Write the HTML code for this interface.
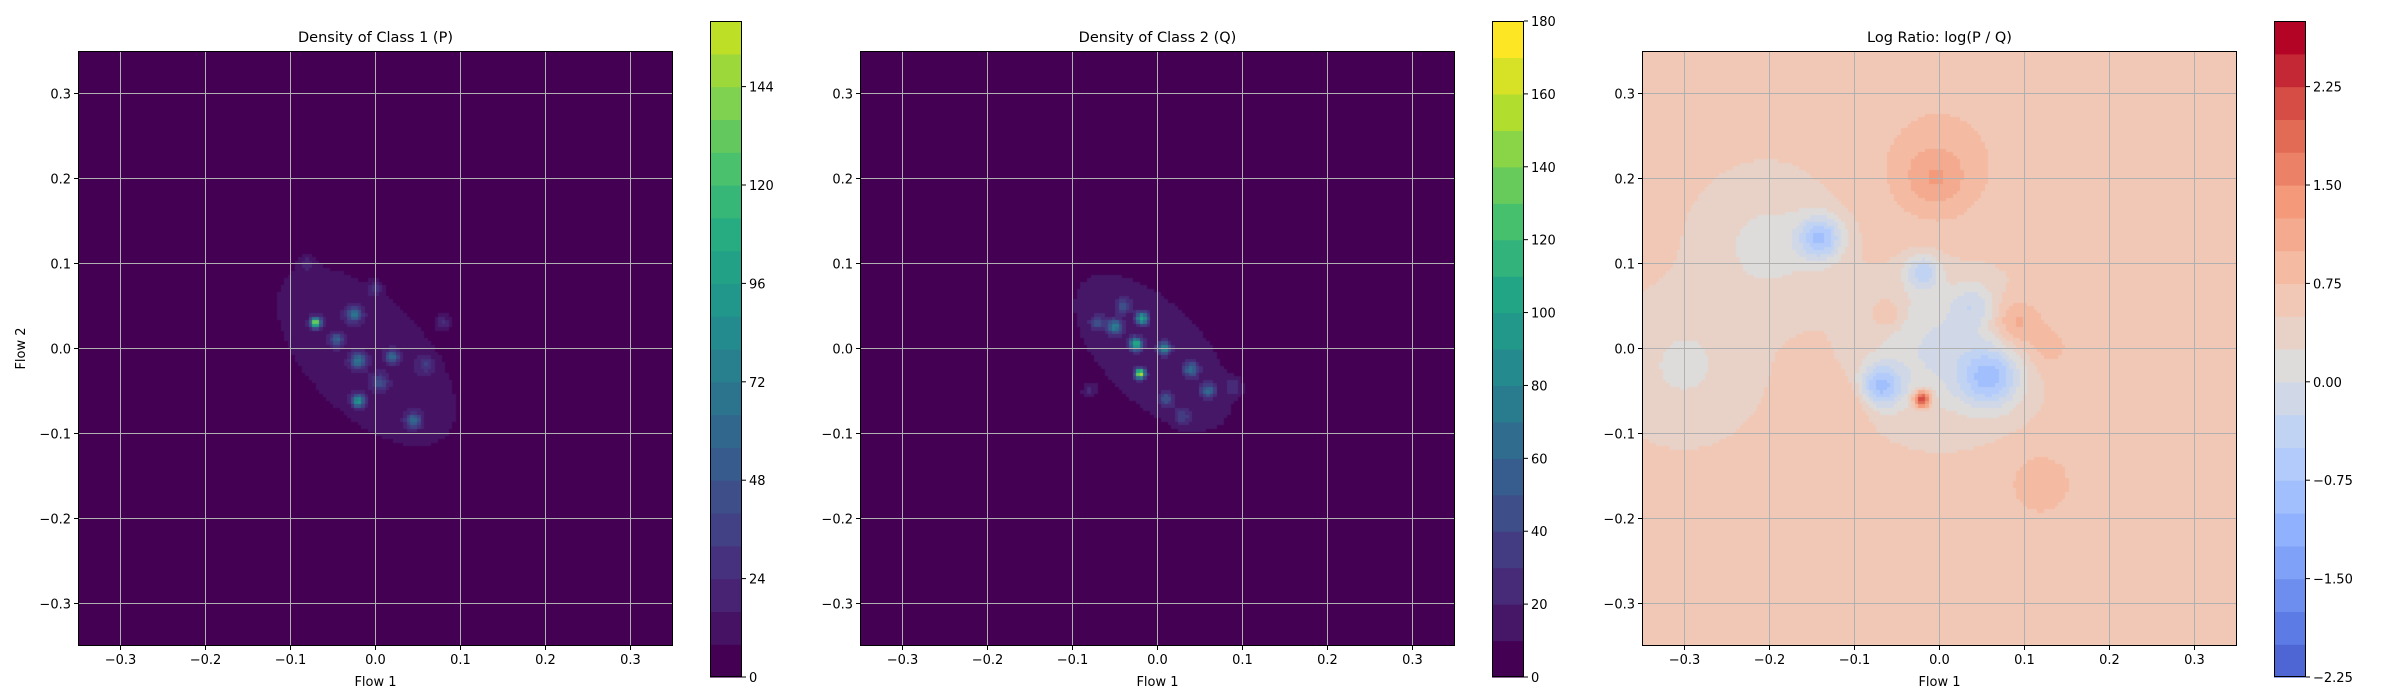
<!DOCTYPE html>
<html><head><meta charset="utf-8">
<style>
html,body{margin:0;padding:0;background:#fff;}
#wrap{position:relative;width:2400px;height:700px;overflow:hidden;font-family:"DejaVu Sans","Liberation Sans",sans-serif;}
canvas{position:absolute;}
svg{position:absolute;left:0;top:0;}
</style></head>
<body>
<div id="wrap">
<canvas id="c1"></canvas>
<canvas id="c2"></canvas>
<canvas id="c3"></canvas>
<svg id="ov" width="2400" height="700"></svg>
</div>
<script>
// ---- data ----
const axisTicks = [-0.3,-0.2,-0.1,0.0,0.1,0.2,0.3];
const axisTickLabels = ["−0.3","−0.2","−0.1","0.0","0.1","0.2","0.3"];
// Class 1 (P) components: x, y, sigma, amplitude
const pBlobX = [-0.01,-0.07,-0.025,-0.02,-0.02,0.02,0.045,-0.045,0.005,0.08,-0.08,0.0,0.06];
const pBlobY = [-0.01,0.03,0.04,-0.015,-0.062,-0.01,-0.085,0.01,-0.04,0.03,0.1,0.07,-0.02];
const pBlobS = [0.0,0.004,0.006,0.006,0.005,0.005,0.006,0.005,0.006,0.007,0.007,0.006,0.007];
const pBlobA = [14,140,55,60,85,50,50,45,35,25,15,20,20];
// Class 2 (Q) components
const qBlobX = [-0.005,-0.02,-0.018,-0.025,-0.05,0.04,0.008,0.06,-0.07,-0.04,0.03,0.01,-0.08,0.09];
const qBlobY = [-0.005,-0.03,0.035,0.005,0.025,-0.025,0.0,-0.05,0.03,0.05,-0.08,-0.06,-0.05,-0.045];
const qBlobS = [0.0,0.004,0.005,0.005,0.006,0.006,0.005,0.006,0.006,0.006,0.007,0.006,0.007,0.007];
const qBlobA = [14,150,95,105,65,55,75,50,35,35,25,35,22,22];
// Log ratio components
const rBase = 0.55;
const rBlobX = [-0.02,0.09,-0.005,0.12,-0.07,0.06,-0.14,-0.02,0.0,-0.2,0.0,-0.3,-0.06,0.04,-0.1,0.13];
const rBlobY = [-0.06,0.03,0.2,-0.16,-0.045,-0.035,0.13,0.09,0.0,0.12,0.22,-0.02,0.04,0.05,-0.06,0.0];
const rBlobS = [0.007,0.02,0.025,0.025,0.018,0.025,0.018,0.014,0.055,0.05,0.06,0.05,0.012,0.018,0.02,0.02];
const rBlobA = [2.0,0.6,0.45,0.45,-1.3,-1.2,-1.2,-0.9,-0.6,-0.4,0.3,-0.35,0.4,-0.5,0.35,0.3];
// colorbar levels
const pTicks = [0,24,48,72,96,120,144];
const qTicks = [0,20,40,60,80,100,120,140,160,180];
const rTicks = [-2.25,-1.50,-0.75,0.00,0.75,1.50,2.25];
const rTickLabels = ["−2.25","−1.50","−0.75","0.00","0.75","1.50","2.25"];

// ---- colormaps ----
const VIR = [[68,1,84],[72,36,117],[65,68,135],[53,95,141],[42,120,142],[33,145,140],[34,168,132],[68,191,112],[122,209,81],[189,223,38],[253,231,37]];
const CW = [[59,76,192],[98,130,234],[141,176,254],[184,208,249],[221,221,221],[245,196,173],[244,154,123],[222,96,77],[180,4,38]];
function cmap(tab,t){t=Math.max(0,Math.min(1,t));const n=tab.length-1;const f=t*n;const i=Math.min(n-1,Math.floor(f));const u=f-i;
 const a=tab[i],b=tab[i+1];return `rgb(${Math.round(a[0]+(b[0]-a[0])*u)},${Math.round(a[1]+(b[1]-a[1])*u)},${Math.round(a[2]+(b[2]-a[2])*u)})`;}

const panels = [
 {cv:'c1',L:78,T:51,S:595,cbL:710,title:"Density of Class 1 (P)",ylabel:true,lo:0,step:8,n:20,tab:VIR,t0:0,tmax:0.9,
  bx:pBlobX,by:pBlobY,bs:pBlobS,ba:pBlobA,base:0,ticks:pTicks,tl:pTicks.map(String),cloud:[0.145,0.075]},
 {cv:'c2',L:860,T:51,S:595,cbL:1492,title:"Density of Class 2 (Q)",ylabel:false,lo:0,step:10,n:18,tab:VIR,t0:0,tmax:1,
  bx:qBlobX,by:qBlobY,bs:qBlobS,ba:qBlobA,base:0,ticks:qTicks,tl:qTicks.map(String),cloud:[0.14,0.07]},
 {cv:'c3',L:1642,T:51,S:595,cbL:2274,title:"Log Ratio: log(P / Q)",ylabel:false,lo:-2.25,step:0.25,n:20,tab:CW,t0:0.06,tmax:0.94,
  bx:rBlobX,by:rBlobY,bs:rBlobS,ba:rBlobA,base:rBase,ticks:rTicks,tl:rTickLabels,cloud:null}
];
const cbT=21, cbB=677, cbW=32;
const svg=document.getElementById('ov');
const NS="http://www.w3.org/2000/svg";
function mk(tag,attrs){const e=document.createElementNS(NS,tag);for(const k in attrs)e.setAttribute(k,attrs[k]);svg.appendChild(e);return e;}

panels.forEach((p,pi)=>{
 const cv=document.getElementById(p.cv);
 cv.width=p.S;cv.height=p.S;cv.style.left=p.L+'px';cv.style.top=p.T+'px';
 const ctx=cv.getContext('2d');
 const N=170, cs=p.S/N;
 const sx=v=>p.L+(v+0.35)/0.7*p.S, sy=v=>p.T+(0.35-v)/0.7*p.S;
 const col=k=>cmap(p.tab,p.t0+k/(p.n-1)*p.tmax);
 for(let i=0;i<N;i++)for(let j=0;j<N;j++){
  const x=-0.35+(i+0.5)/N*0.7, y=0.35-(j+0.5)/N*0.7;
  let v=p.base;
  for(let k=0;k<p.bx.length;k++){
   const dx=x-p.bx[k], dy=y-p.by[k];
   if(p.bs[k]===0&&p.cloud){
    const u=(dx-dy)/Math.SQRT2, w=(dx+dy)/Math.SQRT2;
    const r2=(u/p.cloud[0])**2+(w/p.cloud[1])**2;
    v+=p.ba[k]*Math.exp(-Math.pow(r2,3));
   } else {
    v+=p.ba[k]*Math.exp(-(dx*dx+dy*dy)/(2*p.bs[k]*p.bs[k]));
   }
  }
  let lvl=Math.floor((v-p.lo)/p.step);lvl=Math.max(0,Math.min(p.n-1,lvl));
  ctx.fillStyle=col(lvl);
  ctx.fillRect(Math.floor(i*cs),Math.floor(j*cs),Math.ceil(cs)+1,Math.ceil(cs)+1);
 }
 // grid
 axisTicks.forEach((t,ti)=>{
  const gx=mk('line',{x1:sx(t),x2:sx(t),y1:p.T,y2:p.T+p.S,stroke:'#b0b0b0','stroke-width':1});
  
  
  const gy=mk('line',{x1:p.L,x2:p.L+p.S,y1:sy(t),y2:sy(t),stroke:'#b0b0b0','stroke-width':1});
  
  
  const tx=mk('line',{x1:sx(t),x2:sx(t),y1:p.T+p.S,y2:p.T+p.S+4,stroke:'#000','stroke-width':1});
  
  
  const lx=mk('text',{x:sx(t),y:p.T+p.S+18,'font-size':13,'text-anchor':'middle',fill:'#000'});
  lx.textContent=axisTickLabels[ti];
  
  
  const ty=mk('line',{x1:p.L-4,x2:p.L,y1:sy(t),y2:sy(t),stroke:'#000','stroke-width':1});
  
  
  const ly=mk('text',{x:p.L-7,y:sy(t)+5,'font-size':13,'text-anchor':'end',fill:'#000'});
  ly.textContent=axisTickLabels[ti];
  
  
 });
 const fr=mk('rect',{x:p.L+0.5,y:p.T+0.5,width:p.S-1,height:p.S-1,fill:'none',stroke:'#000','stroke-width':1});
 
 
 const tt=mk('text',{x:p.L+p.S/2,y:42,'font-size':14.5,'text-anchor':'middle',fill:'#000'});
 tt.textContent=p.title;
 
 
 const xl=mk('text',{x:p.L+p.S/2,y:686,'font-size':13,'text-anchor':'middle',fill:'#000'});
 xl.textContent="Flow 1";
 
 
 if(p.ylabel){
  const yl=mk('text',{x:0,y:0,'font-size':13,'text-anchor':'middle',fill:'#000',transform:`translate(25,${p.T+p.S/2}) rotate(-90)`});
  yl.textContent="Flow 2";
  
  
 }
 // colorbar
 const hi=p.lo+p.step*p.n;
 const cy=v=>cbB-(v-p.lo)/(hi-p.lo)*(cbB-cbT);
 for(let k=0;k<p.n;k++){
  const r=mk('rect',{x:p.cbL,y:cy(p.lo+(k+1)*p.step),width:cbW,height:cy(p.lo+k*p.step)-cy(p.lo+(k+1)*p.step)+0.6,fill:col(k)});
  
  
 }
 const cf=mk('rect',{x:p.cbL+0.5,y:cbT+0.5,width:cbW-1,height:cbB-cbT-1,fill:'none',stroke:'#000','stroke-width':1});
 
 
 p.ticks.forEach((t,ti)=>{
  const ct=mk('line',{x1:p.cbL+cbW,x2:p.cbL+cbW+4,y1:cy(t),y2:cy(t),stroke:'#000','stroke-width':1});
  
  
  const cl=mk('text',{x:p.cbL+cbW+7,y:cy(t)+5,'font-size':13,fill:'#000'});
  cl.textContent=p.tl[ti];
  
  
 });
});
</script>
</body></html>
